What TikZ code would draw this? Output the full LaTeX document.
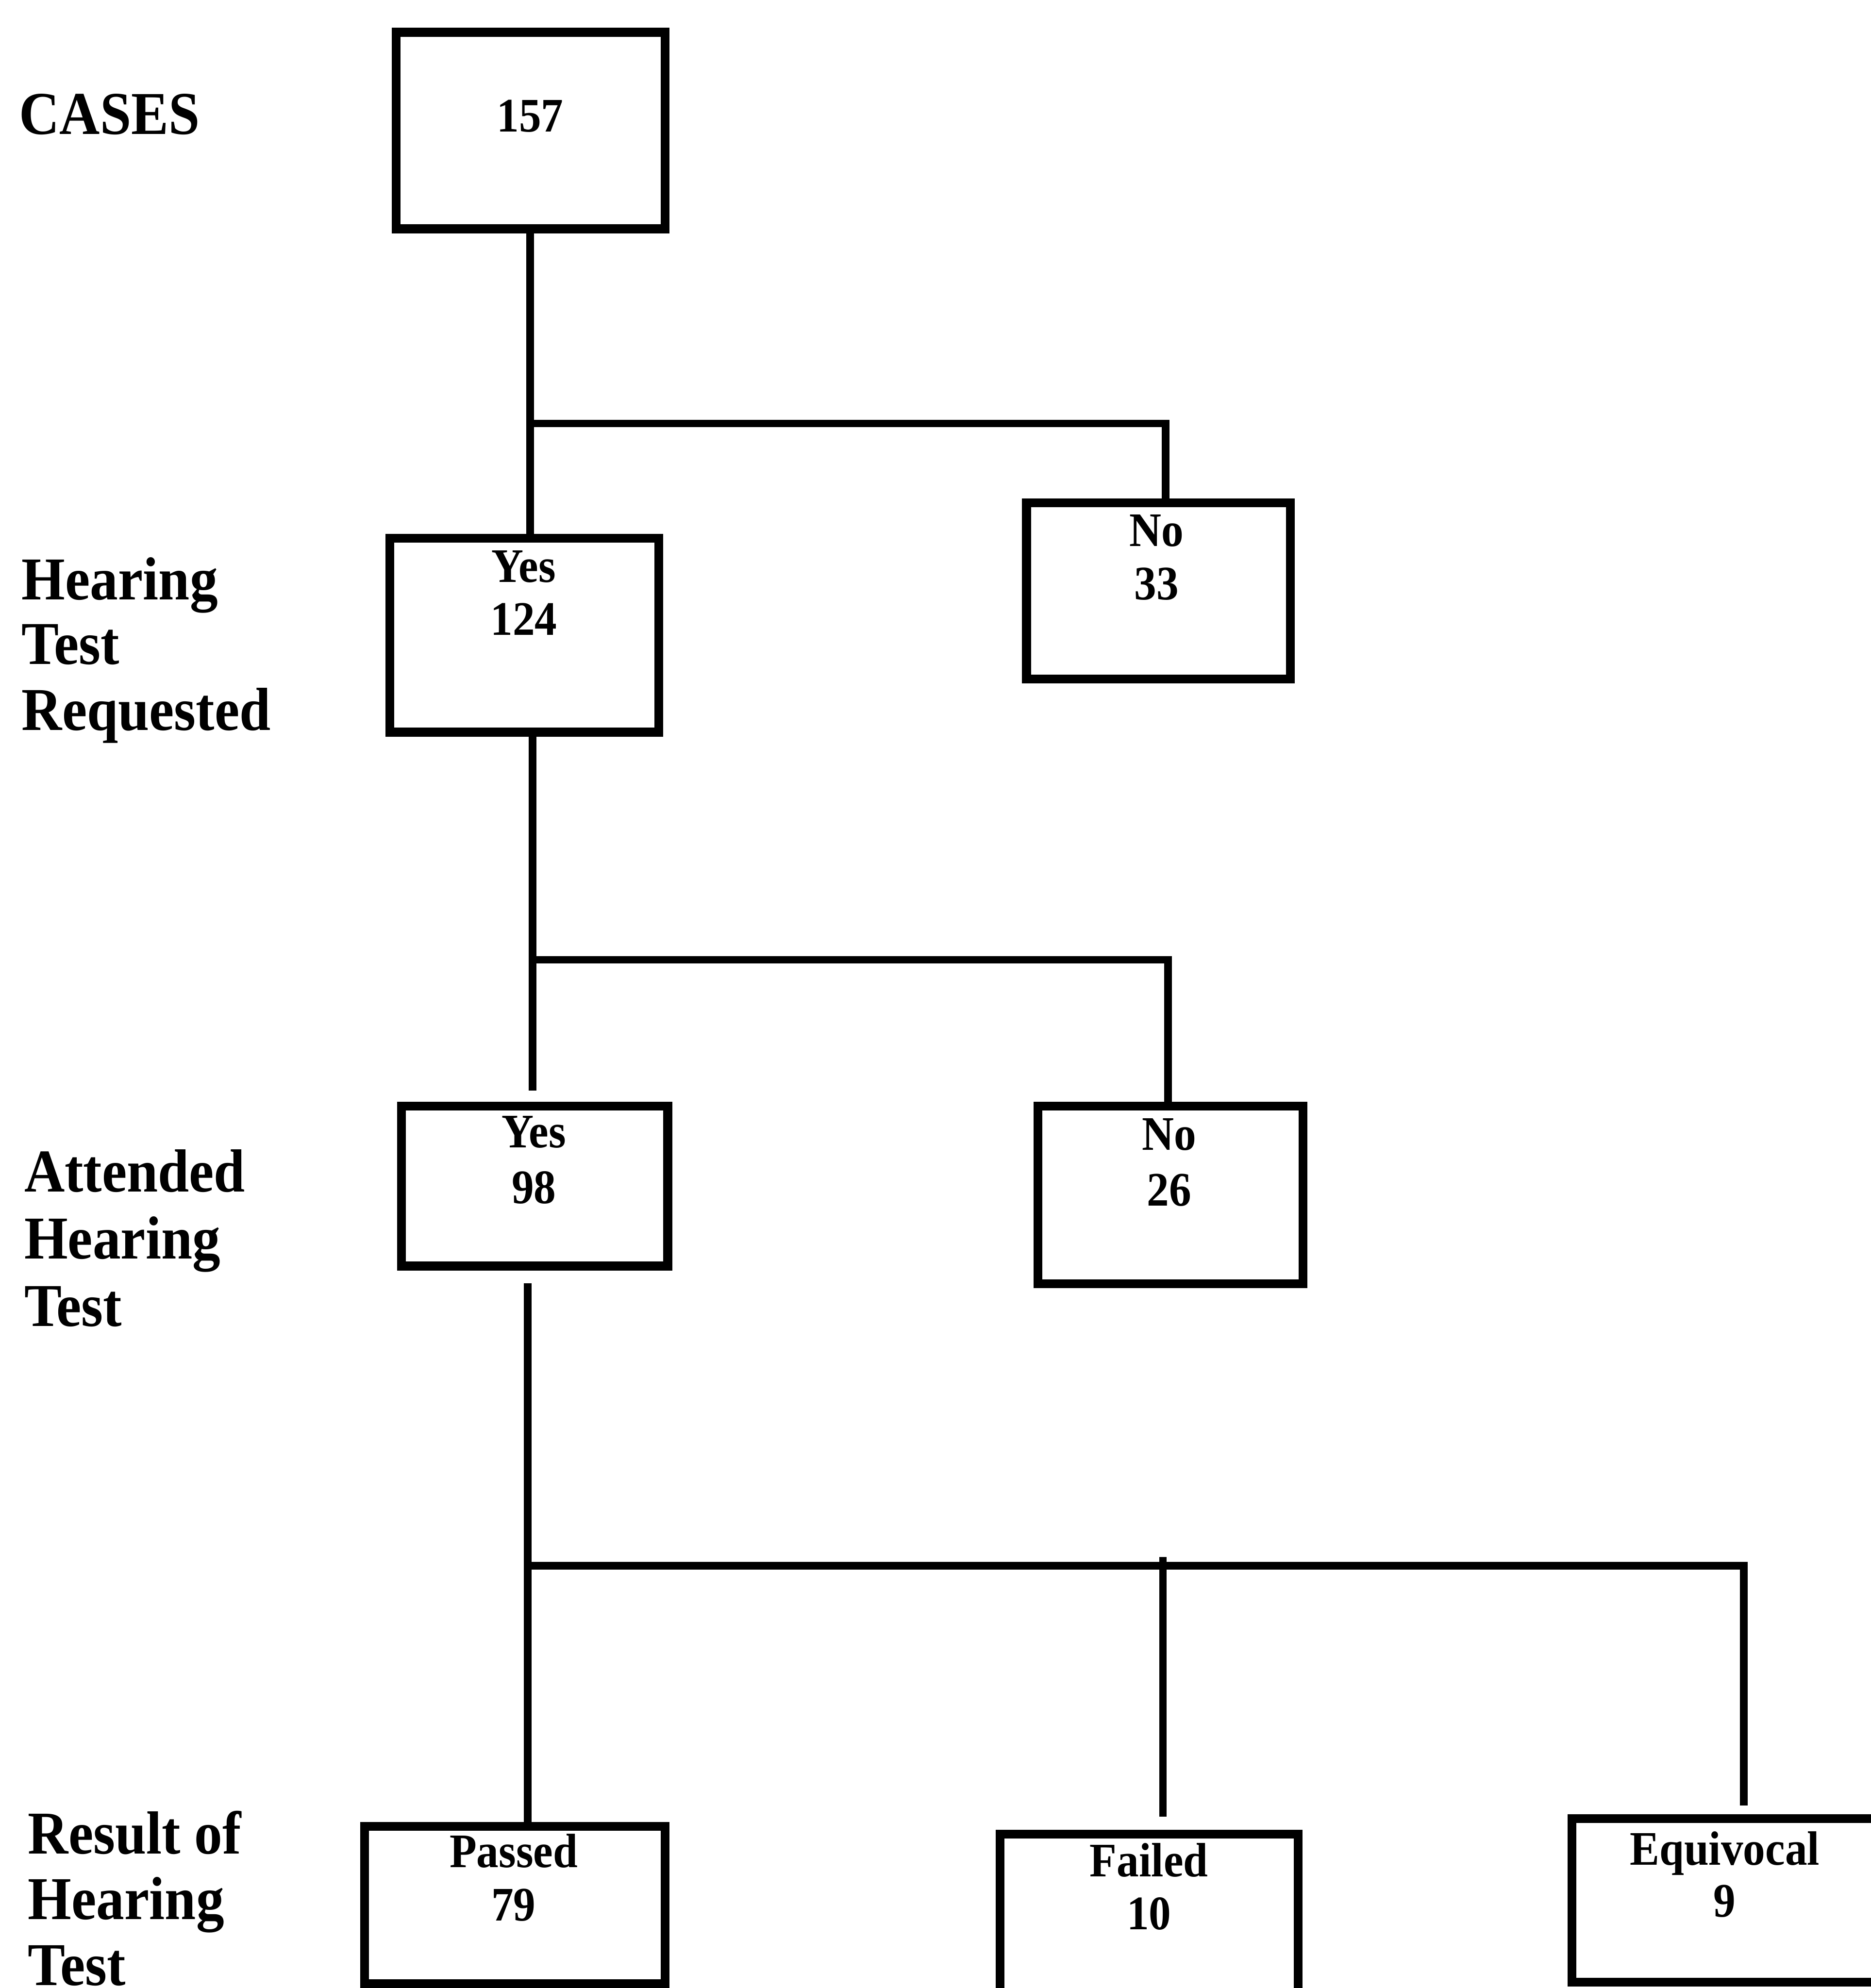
\documentclass[tikz,border=0pt]{standalone}
\usepackage{fontspec}
\setmainfont{Liberation Serif}[FakeStretch=0.92]
\begin{document}
\begin{tikzpicture}[x=1pt,y=-1pt,
  box/.style={draw,line width=7pt,rectangle,inner sep=0pt},
  conn/.style={line width=6pt,line join=miter},
  lab/.style={font=\bfseries\fontsize{48}{52}\selectfont,anchor=base west,inner sep=0pt},
  btxt/.style={font=\bfseries\fontsize{38}{42}\selectfont,anchor=base,inner sep=0pt}]
\fill[white] (0,0) rectangle (1475,1568);
\useasboundingbox (0,0) rectangle (1475,1568);

% boxes
\node[box,minimum width=212pt,minimum height=155pt] (c157) at (418.5,103) {};
\node[box,minimum width=212pt,minimum height=153pt] (yes1) at (413.5,501) {};
\node[box,minimum width=208pt,minimum height=139pt] (no1) at (913.5,466) {};
\node[box,minimum width=210pt,minimum height=126pt] (yes2) at (421.5,935.5) {};
\node[box,minimum width=209pt,minimum height=140pt] (no2) at (923,942.5) {};
\node[box,minimum width=237pt,minimum height=124pt] (pass) at (406,1502.5) {};
\node[box,minimum width=235pt,minimum height=150pt] (fail) at (906,1521.5) {};
\node[box,minimum width=252pt,minimum height=129pt] (equi) at (1365.5,1499) {};

% box texts
\node[btxt] (t157) at (418,104) {157};
\node[btxt] (ty1) at (413,459) {Yes};
\node[btxt] (tn1y) at (413,501) {124};
\node[btxt] (tno1) at (912,431) {No};
\node[btxt] (tno1n) at (912,473) {33};
\node[btxt] (ty2) at (421,905) {Yes};
\node[btxt] (ty2n) at (421,949) {98};
\node[btxt] (tno2) at (922,907) {No};
\node[btxt] (tno2n) at (922,951) {26};
\node[btxt] (tpass) at (405,1473) {Passed};
\node[btxt] (tpassn) at (405,1515) {79};
\node[btxt] (tfail) at (906,1480) {Failed};
\node[btxt] (tfailn) at (906,1522) {10};
\node[btxt] (tequi) at (1360,1471) {Equivocal};
\node[btxt] (tequin) at (1360,1512) {9};

% row labels
\node[lab] (lcases) at (15,106) {CASES};
\node[lab] (lh1) at (17,473) {Hearing};
\node[lab] (lh2) at (17,524) {Test};
\node[lab] (lh3) at (17,576) {Requested};
\node[lab] (la1) at (19,940) {Attended};
\node[lab] (la2) at (19,993) {Hearing};
\node[lab] (la3) at (19,1046) {Test};
\node[lab] (lr1) at (22,1462) {Result of};
\node[lab] (lr2) at (22,1514) {Hearing};
\node[lab] (lr3) at (22,1566) {Test};

% connector coordinates
\coordinate (x1) at (418,0);
\coordinate (xn1) at (919,0);
\coordinate (b1) at (418,334);
\coordinate (x2) at (420,0);
\coordinate (xn2) at (921,0);
\coordinate (b2) at (420,757);
\coordinate (e2) at (420,860);
\coordinate (s3) at (416,1012);
\coordinate (x3) at (416,0);
\coordinate (b3) at (416,1235);
\coordinate (f3) at (917,1228);
\coordinate (fe) at (917,1433);
\coordinate (q3) at (1375,1235);
\coordinate (qe) at (1375,1424);

% connectors
\draw[conn] (c157.south -| x1) -- (yes1.north -| x1);
\draw[conn] (b1) -| (no1.north -| xn1);
\draw[conn] (yes1.south -| x2) -- (e2);
\draw[conn] (b2) -| (no2.north -| xn2);
\draw[conn] (s3) -- (pass.north -| x3);
\draw[conn] (b3) -- (q3) -- (qe);
\draw[conn] (f3) -- (fe);
\end{tikzpicture}
\end{document}
